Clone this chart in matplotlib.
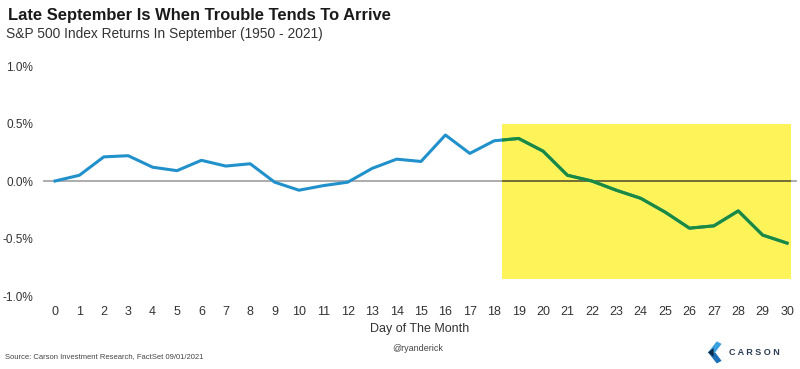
import matplotlib.pyplot as plt
from matplotlib.patches import Rectangle, Polygon

plt.rcParams['font.family'] = ['Liberation Sans', 'DejaVu Sans']

# S&P 500 average cumulative return by day of September (1950 - 2021), in %
days = list(range(31))
returns = [0.00, 0.05, 0.21, 0.22, 0.12, 0.09, 0.18, 0.13, 0.15, -0.01,
           -0.08, -0.04, -0.01, 0.11, 0.19, 0.17, 0.40, 0.24, 0.35, 0.37,
           0.26, 0.05, 0.00, -0.08, -0.15, -0.27, -0.41, -0.39, -0.26, -0.47,
           -0.54]
y_ticks = [-1.0, -0.5, 0.0, 0.5, 1.0]
highlight_days = (18.3, 30.15)
highlight_range = (-0.855, 0.5)

blue = '#2191cc'
green = '#1a8a3e'
yellow = '#fff35a'

fig = plt.figure(figsize=(8, 3.69), dpi=100)
ax = fig.add_axes([0.0535, 0.1978, 0.9425, 0.6233])

box = Rectangle((highlight_days[0], highlight_range[0]),
                highlight_days[1] - highlight_days[0],
                highlight_range[1] - highlight_range[0],
                facecolor=yellow, edgecolor='none', zorder=1)
ax.add_patch(box)

ax.axhline(0, color='#a6a6a6', lw=1.3, zorder=2)
zero_in = ax.axhline(0, color='#6f6a2a', lw=1.3, zorder=2)
zero_in.set_clip_path(box)

ax.plot(days, returns, color=blue, lw=2.2, zorder=3, solid_joinstyle='round')
inside, = ax.plot(days, returns, color=green, lw=2.2, zorder=4, solid_joinstyle='round')
inside.set_clip_path(box)

ax.set_xlim(-0.5, 30.4)
ax.set_ylim(-1.0, 1.0)
ax.set_xticks(days)
ax.set_yticks(y_ticks)
ax.set_yticklabels([f'{v:.1f}%' for v in y_ticks])
ax.tick_params(length=0, colors='#333333')
ax.tick_params(axis='y', pad=7, labelsize=8.5)
ax.tick_params(axis='x', pad=7, labelsize=9)
for s in ax.spines.values():
    s.set_visible(False)
ax.set_xlabel('Day of The Month', fontsize=9, color='#333333', labelpad=4)

fig.text(0.01, 0.945, 'Late September Is When Trouble Tends To Arrive',
         fontsize=11.9, fontweight='bold', color='#1a1a1a', va='baseline')
fig.text(0.007, 0.897, 'S&P 500 Index Returns In September (1950 - 2021)',
         fontsize=9.9, color='#333333', va='baseline')
fig.text(0.006, 0.03, 'Source: Carson Investment Research, FactSet 09/01/2021',
         fontsize=5.5, color='#444444', va='baseline')
fig.text(0.522, 0.05, '@ryanderick', fontsize=6.5, color='#444444',
         ha='center', va='baseline')

# Carson logo
logo_top = Polygon([(0.896, 0.075), (0.885, 0.045), (0.894, 0.045), (0.902, 0.068)],
                   closed=True, facecolor='#3aa0e0', transform=fig.transFigure)
logo_bot = Polygon([(0.885, 0.045), (0.896, 0.015), (0.902, 0.022), (0.894, 0.045)],
                   closed=True, facecolor='#1d6fb8', transform=fig.transFigure)
logo_mid = Polygon([(0.885, 0.045), (0.892, 0.057), (0.892, 0.033)],
                   closed=True, facecolor='#0d2c4a', transform=fig.transFigure)
fig.patches.extend([logo_top, logo_bot, logo_mid])
fig.text(0.911, 0.045, 'C A R S O N', fontsize=6.5, fontweight='bold', color='#2a3d55',
         va='center')

fig.savefig('out.png', dpi=100)
